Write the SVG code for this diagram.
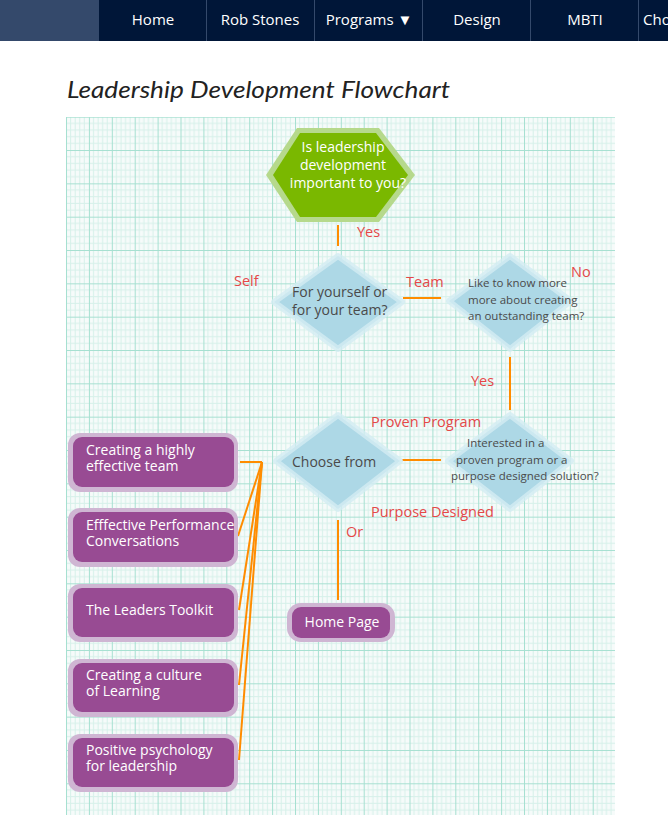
<svg xmlns="http://www.w3.org/2000/svg" width="668" height="815" viewBox="0 0 668 815">
<defs>
<style>
.nav{font-family:"Open Sans","Liberation Sans",sans-serif;font-size:15px;fill:#ffffff}
.title{font-family:Lato,"Open Sans",sans-serif;font-style:italic;font-size:24px;fill:#222}
.lbl{font-family:"Open Sans","Liberation Sans",sans-serif;font-size:14.5px;fill:#e54848}
.dt{font-family:"Open Sans","Liberation Sans",sans-serif;font-size:14px;fill:#4a4a4a}
.ds{font-family:"Open Sans","Liberation Sans",sans-serif;font-size:11.5px;fill:#4a4a4a}
.ht{font-family:"Open Sans","Liberation Sans",sans-serif;font-size:14px;fill:#ffffff}
.bt{font-family:"Open Sans","Liberation Sans",sans-serif;font-size:14px;fill:#ffffff}
.dia{fill:#add8e6;stroke:#d3ecf2;stroke-width:6;stroke-linejoin:round;stroke-opacity:0.8}
.bo{fill:#cfb6d3}
.bi{fill:#984b93}
.con{stroke:#ff8c00;stroke-width:2;fill:none}
.sep{stroke:#34496b;stroke-width:1}
</style>
<pattern id="grid" patternUnits="userSpaceOnUse" x="66" y="116.7" width="22.9" height="33.33">
<rect width="22.9" height="33.33" fill="#f6fbfa"/>
<g stroke="#d6f1ea" stroke-width="1">
<line x1="4.6" y1="0" x2="4.6" y2="33.33"/>
<line x1="9.2" y1="0" x2="9.2" y2="33.33"/>
<line x1="13.7" y1="0" x2="13.7" y2="33.33"/>
<line x1="18.3" y1="0" x2="18.3" y2="33.33"/>
<line x1="0" y1="6.67" x2="22.9" y2="6.67"/>
<line x1="0" y1="13.33" x2="22.9" y2="13.33"/>
<line x1="0" y1="20" x2="22.9" y2="20"/>
<line x1="0" y1="26.67" x2="22.9" y2="26.67"/>
</g>
<g stroke="#a6e0d1" stroke-width="2">
<line x1="0" y1="0" x2="0" y2="33.33"/>
<line x1="0" y1="0" x2="22.9" y2="0"/>
</g>
</pattern>
<clipPath id="clip2"><rect x="68" y="508" width="169" height="60"/></clipPath>
</defs>

<g id="navbar">
<rect x="0" y="0" width="668" height="41" fill="#001638"/>
<rect x="0" y="0" width="99" height="41" fill="#34496b"/>
<line class="sep" x1="206.5" y1="0" x2="206.5" y2="41"/>
<line class="sep" x1="314.5" y1="0" x2="314.5" y2="41"/>
<line class="sep" x1="422.5" y1="0" x2="422.5" y2="41"/>
<line class="sep" x1="530.5" y1="0" x2="530.5" y2="41"/>
<line class="sep" x1="638.5" y1="0" x2="638.5" y2="41"/>
<text class="nav" x="153" y="25" text-anchor="middle">Home</text>
<text class="nav" x="260" y="25" text-anchor="middle">Rob Stones</text>
<text class="nav" x="369" y="25" text-anchor="middle">Programs ▼</text>
<text class="nav" x="477" y="25" text-anchor="middle">Design</text>
<text class="nav" x="585" y="25" text-anchor="middle">MBTI</text>
<text class="nav" x="643" y="25">Cho</text>
</g>

<text class="title" x="67" y="98" textLength="383" lengthAdjust="spacingAndGlyphs">Leadership Development Flowchart</text>

<rect x="66" y="117" width="549" height="698" fill="url(#grid)"/>

<g id="connectors">
<line class="con" x1="338" y1="225" x2="338" y2="246"/>
<line class="con" x1="403" y1="298" x2="441" y2="298"/>
<line class="con" x1="510" y1="357" x2="510" y2="410"/>
<line class="con" x1="402" y1="460" x2="441" y2="460"/>
<line class="con" x1="338" y1="520" x2="338" y2="600"/>
<line class="con" x1="240" y1="462" x2="262" y2="462"/>
<line class="con" x1="238" y1="536" x2="262" y2="462"/>
<line class="con" x1="239" y1="610" x2="262" y2="462"/>
<line class="con" x1="239" y1="685" x2="262" y2="462"/>
<line class="con" x1="239" y1="760" x2="262" y2="462"/>
<text class="lbl" x="357" y="237">Yes</text>
<text class="lbl" x="234" y="286">Self</text>
<text class="lbl" x="406" y="287">Team</text>
<text class="lbl" x="571" y="277">No</text>
<text class="lbl" x="471" y="386">Yes</text>
<text class="lbl" x="371" y="427">Proven Program</text>
<text class="lbl" x="371" y="517">Purpose Designed</text>
<text class="lbl" x="346" y="537">Or</text>
</g>

<g id="start">
<polygon points="266,175 297,128 379,128 415,175 379,222 297,222" fill="#b6d98c"/>
<polygon points="273,175 300,133 376,133 408,175 376,217 300,217" fill="#7ab800"/>
<text class="ht" x="343" y="152" text-anchor="middle">Is leadership</text>
<text class="ht" x="343" y="170" text-anchor="middle">development</text>
<text class="ht" x="348" y="188" text-anchor="middle">important to you?</text>
</g>

<g id="who">
<polygon class="dia" points="338,256 402,302 338,349 274,302"/>
<text class="dt" x="292" y="297">For yourself or</text>
<text class="dt" x="292" y="315">for your team?</text>
</g>

<g id="team">
<polygon class="dia" points="510,256 571,301 510,349 449,301"/>
<text class="ds" x="468" y="287">Like to know more</text>
<text class="ds" x="468" y="304">more about creating</text>
<text class="ds" x="468" y="320">an outstanding team?</text>
</g>

<g id="choose">
<polygon class="dia" points="338,415 400,461 338,509 276,461"/>
<text class="dt" x="292" y="467">Choose from</text>
</g>

<g id="interest">
<polygon class="dia" points="510,415 571,461 510,509 448,461"/>
<text class="ds" x="467" y="447">Interested in a</text>
<text class="ds" x="456" y="464">proven program or a</text>
<text class="ds" x="451" y="480">purpose designed solution?</text>
</g>

<g id="home">
<rect class="bo" x="287" y="603" width="108" height="39" rx="14"/>
<rect class="bi" x="292" y="607" width="98" height="31" rx="9"/>
<text class="bt" x="342" y="627" text-anchor="middle">Home Page</text>
</g>

<g id="box1">
<rect class="bo" x="68" y="433" width="170" height="59" rx="12"/>
<rect class="bi" x="73" y="437" width="161" height="50" rx="9"/>
<text class="bt" x="86" y="455">Creating a highly</text>
<text class="bt" x="86" y="471">effective team</text>
</g>

<g id="box2">
<rect class="bo" x="68" y="508" width="170" height="59" rx="12"/>
<rect class="bi" x="73" y="512" width="161" height="50" rx="9"/>
<g clip-path="url(#clip2)">
<text class="bt" x="86" y="530">Efffective Performance</text>
</g>
<text class="bt" x="86" y="546">Conversations</text>
</g>

<g id="box3">
<rect class="bo" x="68" y="584" width="170" height="58" rx="12"/>
<rect class="bi" x="73" y="588" width="161" height="49" rx="9"/>
<text class="bt" x="86" y="615">The Leaders Toolkit</text>
</g>

<g id="box4">
<rect class="bo" x="68" y="659" width="170" height="58" rx="12"/>
<rect class="bi" x="73" y="663" width="161" height="49" rx="9"/>
<text class="bt" x="86" y="680">Creating a culture</text>
<text class="bt" x="86" y="696">of Learning</text>
</g>

<g id="box5">
<rect class="bo" x="68" y="734" width="170" height="58" rx="12"/>
<rect class="bi" x="73" y="738" width="161" height="49" rx="9"/>
<text class="bt" x="86" y="755">Positive psychology</text>
<text class="bt" x="86" y="771">for leadership</text>
</g>
</svg>
